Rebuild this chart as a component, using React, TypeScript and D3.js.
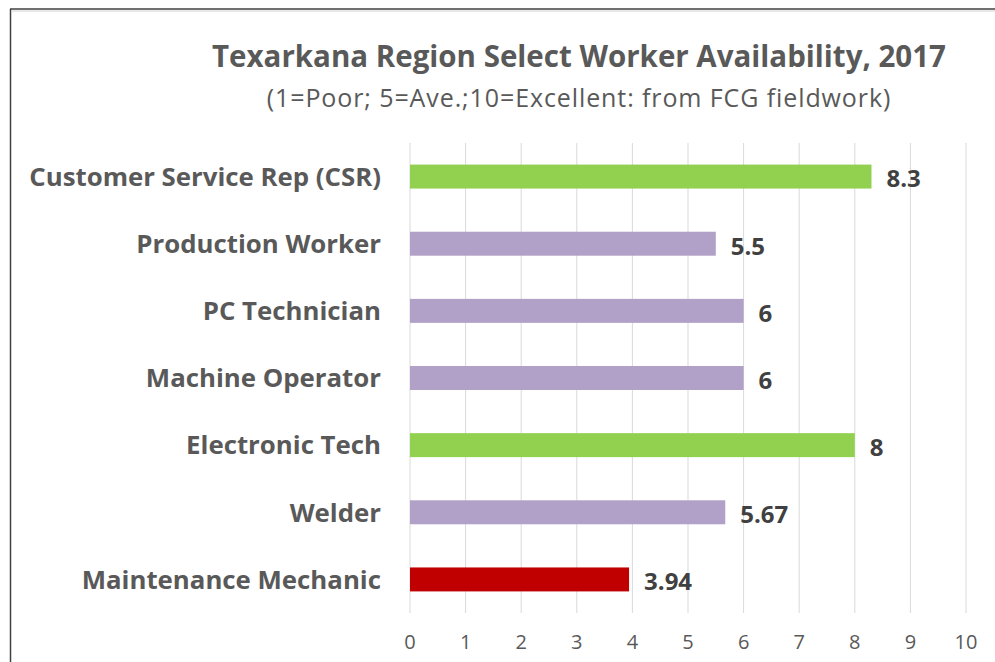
import React from "react";
import * as d3 from "d3";

const categories = [
  "Customer Service Rep (CSR)",
  "Production Worker",
  "PC Technician",
  "Machine Operator",
  "Electronic Tech",
  "Welder",
  "Maintenance Mechanic",
];
const values = [8.3, 5.5, 6, 6, 8, 5.67, 3.94];
const valueLabels = ["8.3", "5.5", "6", "6", "8", "5.67", "3.94"];
const barColors = ["#92D050", "#B1A0C7", "#B1A0C7", "#B1A0C7", "#92D050", "#B1A0C7", "#C00000"];
const xTicks = [0, 1, 2, 3, 4, 5, 6, 7, 8, 9, 10];
const title = "Texarkana Region Select Worker Availability, 2017";
const subtitle = "(1=Poor; 5=Ave.;10=Excellent: from FCG fieldwork)";

const W = 995;
const H = 662;
const FONT = "'Open Sans', Lato, sans-serif";

export default function App() {
  const x = d3.scaleLinear().domain([0, 10]).range([410, 966]);
  const y = d3
    .scaleBand<string>()
    .domain(categories)
    .range([143, 613])
    .paddingInner(0.643)
    .paddingOuter(0.3215);

  return (
    <svg
      width={W}
      height={H}
      style={{ position: "absolute", left: 0, top: 0, background: "#fff" }}
      fontFamily={FONT}
    >
      <rect x={0} y={0} width={W} height={H} fill="#fff" />
      <line x1={10} y1={9} x2={W} y2={9} stroke="#404040" strokeWidth={1.5} />
      <line x1={10.5} y1={9} x2={10.5} y2={H} stroke="#404040" strokeWidth={1.5} />
      <line x1={12} y1={11} x2={W} y2={11} stroke="#d0d0d0" strokeWidth={1} />

      <text x={579} y={67} textAnchor="middle" fontSize={29.5} fontWeight="bold" fill="#595959">
        {title}
      </text>
      <text
        x={579}
        y={107}
        textAnchor="middle"
        fontSize={25}
        letterSpacing={0.9}
        fill="#595959"
      >
        {subtitle}
      </text>

      {xTicks.map((t) => (
        <g key={t}>
          <line x1={x(t)} x2={x(t)} y1={143} y2={613} stroke="#d9d9d9" strokeWidth={1} />
          <text x={x(t)} y={649} textAnchor="middle" fontSize={20} fill="#595959">
            {t}
          </text>
        </g>
      ))}

      {categories.map((c, i) => {
        const by = y(c)!;
        const bh = y.bandwidth();
        return (
          <g key={c}>
            <rect x={x(0)} y={by} width={x(values[i]) - x(0)} height={bh} fill={barColors[i]} />
            <text
              x={381}
              y={by + bh / 2}
              dy="0.36em"
              textAnchor="end"
              fontSize={25.8}
              fontWeight="bold"
              fill="#595959"
            >
              {c}
            </text>
            <text
              x={x(values[i]) + 15}
              y={by + bh / 2}
              dy="0.45em"
              fontSize={24}
              fontWeight="bold"
              fill="#404040"
            >
              {valueLabels[i]}
            </text>
          </g>
        );
      })}
    </svg>
  );
}
